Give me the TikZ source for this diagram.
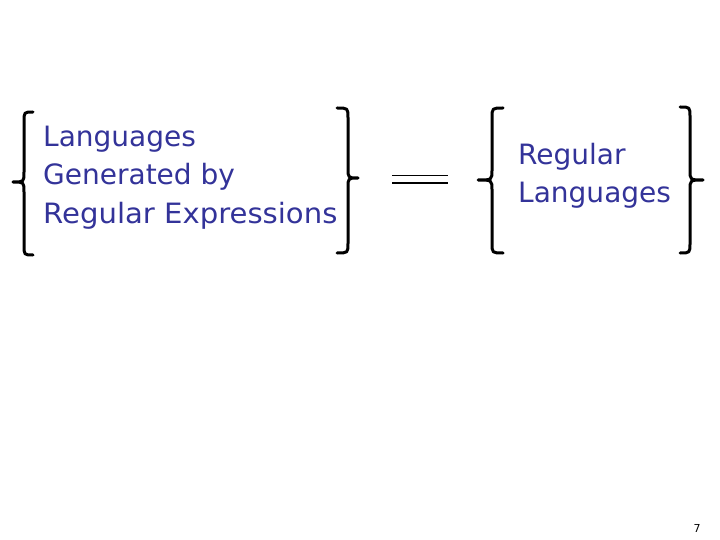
\documentclass[tikz,border=0pt]{standalone}
\usepackage{fontspec}
\setmainfont{DejaVu Sans}
\definecolor{txtblue}{RGB}{51,51,153}
\begin{document}
\begin{tikzpicture}[x=1pt,y=-1pt,
  bracepath/.style={line width=3pt,line cap=round,line join=round,black},
  lbl/.style={anchor=base west,inner sep=0pt,text=txtblue,font=\fontsize{28}{38}\selectfont,align=left}]
\useasboundingbox (0,0) rectangle (720,540);
% left group braces
\draw[bracepath] (33,112) .. controls (24,112) .. (24,122) -- (24,172) .. controls (24,182) .. (13,182)
  .. controls (24,182) .. (24,192) -- (24,245) .. controls (24,255) .. (33,255);
\draw[bracepath] (337,108) .. controls (348,108) .. (348,118) -- (348,168) .. controls (348,178) .. (358,178)
  .. controls (348,178) .. (348,188) -- (348,243) .. controls (348,253) .. (337,253);
% right group braces
\draw[bracepath] (503,108) .. controls (492,108) .. (492,118) -- (492,170) .. controls (492,180) .. (478,180)
  .. controls (492,180) .. (492,190) -- (492,243) .. controls (492,253) .. (503,253);
\draw[bracepath] (680,107) .. controls (690,107) .. (690,117) -- (690,170) .. controls (690,180) .. (703,180)
  .. controls (690,180) .. (690,190) -- (690,243) .. controls (690,253) .. (680,253);
% texts
\node[lbl] (t1) at (43,147) {Languages};
\node[lbl] (t2) at (43,185) {Generated by};
\node[lbl,xscale=1.04] (t3) at (43,223) {Regular Expressions};
\node[lbl] (t4) at (518,165) {Regular};
\node[lbl] (t5) at (518,203) {Languages};
% equals sign
\coordinate (e1) at (392,175.5);
\coordinate (e2) at (448,175.5);
\coordinate (e3) at (392,183);
\coordinate (e4) at (448,183);
\draw[line width=1.8pt] (e1) -- (e2);
\draw[line width=1.8pt] (e3) -- (e4);
% page number
\node[anchor=base,inner sep=0pt,font=\fontsize{11}{13}\selectfont] (pg) at (697,532) {7};
\end{tikzpicture}
\end{document}
